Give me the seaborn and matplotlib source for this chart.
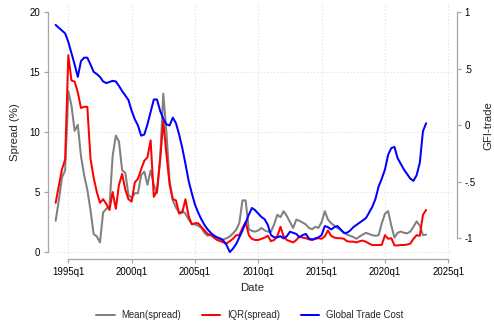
import numpy as np
import pandas as pd
import matplotlib
matplotlib.use("Agg")
import matplotlib.pyplot as plt
import seaborn as sns

# Quarterly series, 1994q1 .. 2023q2
start_year = 1994

mean_spread = [
    2.6, 4.3, 6.2, 6.8, 13.4, 12.2, 10.1, 10.6, 8.0, 6.4,
    5.2, 3.5, 1.5, 1.3, 0.8, 3.3, 3.6, 3.8, 8.0, 9.7,
    9.2, 6.8, 6.6, 4.75, 4.5, 4.9, 4.9, 6.4, 6.7, 5.6,
    6.8, 5.6, 4.9, 7.8, 13.2, 9.9, 5.9, 4.3, 3.7, 3.3,
    3.4, 3.2, 2.7, 2.35, 2.3, 2.2, 2.0, 1.6, 1.35, 1.5,
    1.35, 1.1, 1.05, 1.05, 1.15, 1.3, 1.55, 1.85, 2.4, 4.3,
    4.3, 1.9, 1.75, 1.7, 1.8, 2.0, 1.8, 1.7, 1.7, 2.3,
    3.1, 2.9, 3.4, 3.0, 2.5, 2.0, 2.7, 2.6, 2.45, 2.3,
    2.0, 1.9, 2.1, 2.0, 2.5, 3.4, 2.7, 2.4, 2.2, 2.0,
    1.85, 1.6, 1.45, 1.35, 1.25, 1.1, 1.3, 1.45, 1.6, 1.5,
    1.4, 1.35, 1.4, 2.4, 3.2, 3.4, 2.2, 1.2, 1.6, 1.7,
    1.6, 1.55, 1.7, 2.1, 2.55, 2.2, 1.4, 1.45,
]

iqr_spread = [
    4.1, 5.5, 6.9, 7.7, 16.4, 14.3, 14.2, 13.3, 12.0, 12.1,
    12.1, 7.8, 6.2, 5.0, 4.1, 4.4, 4.0, 3.5, 5.0, 3.6,
    5.6, 6.5, 5.2, 4.4, 4.2, 5.8, 6.1, 6.9, 7.6, 7.9,
    9.3, 4.6, 5.1, 7.7, 10.9, 8.1, 5.6, 4.4, 4.3, 3.2,
    3.3, 4.4, 3.0, 2.3, 2.4, 2.4, 2.1, 1.8, 1.5, 1.4,
    1.2, 1.0, 0.9, 0.8, 0.72, 0.9, 1.1, 1.4, 1.4, 2.0,
    2.5, 1.4, 1.1, 1.0, 1.0, 1.1, 1.2, 1.35, 0.9, 1.0,
    1.3, 2.1, 1.3, 1.0, 0.9, 0.8, 1.0, 1.3, 1.2, 1.15,
    1.05, 1.0, 1.1, 1.15, 1.1, 1.3, 1.8, 1.35, 1.2, 1.15,
    1.15, 1.1, 0.9, 0.86, 0.86, 0.8, 0.9, 0.95, 0.85, 0.7,
    0.58, 0.58, 0.58, 0.6, 1.4, 1.1, 1.15, 0.55, 0.55, 0.58,
    0.58, 0.62, 0.7, 1.1, 1.4, 1.35, 3.1, 3.5,
]

trade_cost = [
    0.89, 0.865, 0.84, 0.815, 0.74, 0.64, 0.54, 0.43, 0.57, 0.60,
    0.60, 0.54, 0.475, 0.455, 0.43, 0.39, 0.375, 0.385, 0.395, 0.39,
    0.35, 0.305, 0.265, 0.225, 0.13, 0.055, 0.0, -0.09, -0.08, 0.01,
    0.12, 0.23, 0.23, 0.13, 0.06, 0.01, 0.0, 0.07, 0.02, -0.08,
    -0.20, -0.34, -0.49, -0.60, -0.70, -0.77, -0.83, -0.88, -0.92, -0.95,
    -0.975, -0.99, -1.0, -1.02, -1.06, -1.12, -1.09, -1.05, -0.99, -0.93,
    -0.86, -0.79, -0.73, -0.75, -0.78, -0.81, -0.83, -0.88, -0.97, -0.99,
    -0.99, -0.98, -1.0, -0.98, -0.94, -0.95, -0.96, -0.99, -0.97, -0.96,
    -1.0, -1.01, -1.0, -0.99, -0.97, -0.89, -0.90, -0.92, -0.90, -0.89,
    -0.92, -0.95, -0.95, -0.93, -0.90, -0.88, -0.86, -0.84, -0.82, -0.77,
    -0.72, -0.65, -0.54, -0.47, -0.39, -0.26, -0.20, -0.19, -0.29, -0.34,
    -0.39, -0.43, -0.47, -0.49, -0.44, -0.33, -0.05, 0.02,
]

x_ticks = [1995, 2000, 2005, 2010, 2015, 2020, 2025]
x_tick_labels = ["1995q1", "2000q1", "2005q1", "2010q1", "2015q1", "2020q1", "2025q1"]
left_ticks = [0, 5, 10, 15, 20]
left_tick_labels = ["0", "5", "10", "15", "20"]
right_ticks = [-1, -0.5, 0, 0.5, 1]
right_tick_labels = ["-1", "-.5", "0", ".5", "1"]

dates = start_year + np.arange(len(mean_spread)) / 4.0
df = pd.DataFrame({
    "Date": dates,
    "Mean(spread)": mean_spread,
    "IQR(spread)": iqr_spread,
    "Global Trade Cost": trade_cost,
})

sns.set_theme(style="white")
plt.rcParams["font.family"] = ["Liberation Sans", "DejaVu Sans"]

W, H = 494, 321
fig = plt.figure(figsize=(W / 100, H / 100), dpi=100)
fig.patch.set_facecolor("white")
ax = fig.add_axes([50 / W, 1 - 257 / H, 402 / W, 254 / H])
ax2 = ax.twinx()

axis_grey = "#a6a6a6"
grid_grey = "#dedede"

ax.set_xlim(1993.555, 2025.292)
ax.set_ylim(-0.417, 20.75)
ax2.set_ylim(-1.164, 1.084)

# dotted grid
for v in [0, 5, 10, 15]:
    ax.axhline(v, color=grid_grey, lw=0.8, ls=(0, (1, 2)), zorder=0)
for t in x_ticks:
    ax.axvline(t, color=grid_grey, lw=0.8, ls=(0, (1, 2)), zorder=0)

lw = 1.45
sns.lineplot(data=df, x="Date", y="Mean(spread)", ax=ax, color="#808080",
             lw=lw, label="Mean(spread)", legend=False)
sns.lineplot(data=df, x="Date", y="IQR(spread)", ax=ax, color="#ff0000",
             lw=lw, label="IQR(spread)", legend=False)
sns.lineplot(data=df, x="Date", y="Global Trade Cost", ax=ax2, color="#0000ff",
             lw=lw, label="Global Trade Cost", legend=False)

# axes styling
for a in (ax, ax2):
    for s in a.spines.values():
        s.set_visible(False)
        s.set_color(axis_grey)
        s.set_linewidth(0.9)
ax.spines["left"].set_visible(True)
ax.spines["left"].set_position(("outward", 1.5))
ax.spines["left"].set_bounds(0, 20)
ax.spines["bottom"].set_visible(True)
ax.spines["bottom"].set_position(("outward", 1.5))
ax.spines["bottom"].set_bounds(1995, 2025)
ax2.spines["right"].set_visible(True)
ax2.spines["right"].set_position(("outward", 3.4))
ax2.spines["right"].set_bounds(-1, 1)

ax.set_xticks(x_ticks, x_tick_labels)
ax.set_yticks(left_ticks, left_tick_labels)
ax2.set_yticks(right_ticks, right_tick_labels)
tick_kw = dict(direction="out", length=3.0, width=0.9, color=axis_grey,
               labelsize=6.9, labelcolor="black", pad=2.6)
ax.tick_params(axis="both", **tick_kw)
ax2.tick_params(axis="y", **tick_kw)
ax.tick_params(axis="both", left=True, bottom=True)
ax2.tick_params(axis="y", right=True)
ax.grid(False)
ax2.grid(False)

ax.set_xlabel("Date", fontsize=8.2, va="center")
ax.xaxis.set_label_coords(0.5025, -0.122)
ax.set_ylabel("Spread (%)", fontsize=8.2, va="center")
ax.yaxis.set_label_coords(-0.087, 0.492)
ax2.set_ylabel("GFI-trade", fontsize=8.2, va="center", rotation=90)
ax2.yaxis.set_label_coords(1.0896, 0.518)

handles = ax.get_lines()[-2:] + ax2.get_lines()[-1:]
h1, l1 = ax.get_legend_handles_labels()
h2, l2 = ax2.get_legend_handles_labels()
fig.legend(h1 + h2, l1 + l2, loc="center", bbox_to_anchor=(250 / W, 1 - 315.5 / H),
           ncol=3, frameon=False, fontsize=6.9, handlelength=1.9,
           handletextpad=0.7, columnspacing=2.2)

fig.savefig("out.png", dpi=100, facecolor="white")
